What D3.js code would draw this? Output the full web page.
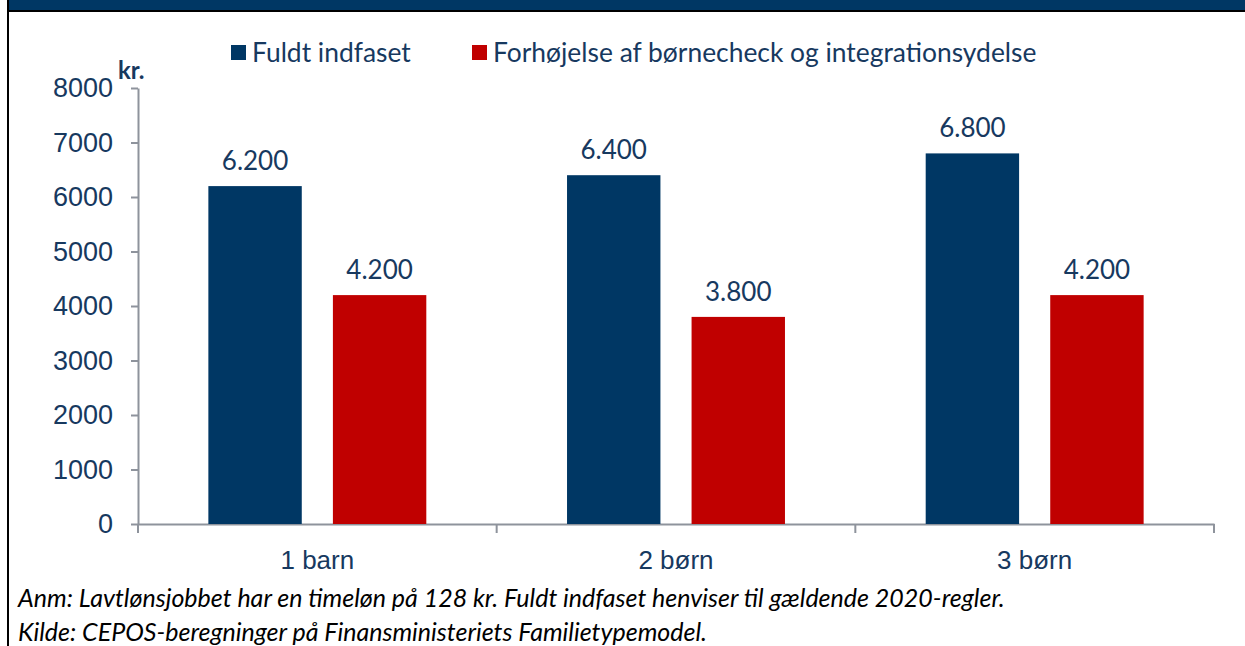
<!DOCTYPE html>
<html>
<head>
<meta charset="utf-8">
<script src="https://cdn.jsdelivr.net/npm/d3@7"></script>
<style>
  body { margin: 0; background: #fff; }
  svg { display: block; font-family: Lato, "Open Sans", sans-serif; }
</style>
</head>
<body>
<svg width="1245" height="646"></svg>
<script>
'use strict'

var categories = ['1 barn', '2 børn', '3 børn']
var seriesNames = ['Fuldt indfaset', 'Forhøjelse af børnecheck og integrationsydelse']
var fuldtIndfaset = [6200, 6400, 6800]
var forhojelse = [4200, 3800, 4200]
var yTicks = [0, 1000, 2000, 3000, 4000, 5000, 6000, 7000, 8000]
var notes = [
  'Anm: Lavtlønsjobbet har en timeløn på 128 kr. Fuldt indfaset henviser til gældende 2020-regler.',
  'Kilde: CEPOS-beregninger på Finansministeriets Familietypemodel.'
]

var colours = ['#003764', '#c00000']
var textColour = '#17395f'
var axisColour = '#8e939c'

var svg = d3.select('svg'),
  width = +svg.attr('width'),
  height = +svg.attr('height')

var margin = { left: 138, right: 31, top: 88, bottom: 122 }

// frame: title band + left rule
svg.append('rect').attr('x', 8).attr('y', 0).attr('width', width - 8).attr('height', 11).attr('fill', '#003764')
svg.append('rect').attr('x', 7).attr('y', 10).attr('width', width - 7).attr('height', 2).attr('fill', '#000')
svg.append('rect').attr('x', 7).attr('y', 0).attr('width', 2).attr('height', height).attr('fill', '#000')

var x0 = d3.scaleBand()
  .domain(categories)
  .range([margin.left, width - margin.right])
  .padding(0)

var x1 = d3.scaleBand()
  .domain(seriesNames)
  .range([0, x0.bandwidth()])
  .paddingInner(0.25)
  .paddingOuter(0.565)

var y = d3.scaleLinear()
  .domain([0, 8000])
  .range([height - margin.bottom, margin.top])

var rows = categories.map(function(c, i) {
  return { cat: c, values: [fuldtIndfaset[i], forhojelse[i]] }
})

// y axis
var yAxis = svg.append('g')
  .attr('transform', 'translate(' + margin.left + ',0)')
  .call(d3.axisLeft(y).tickValues(yTicks).tickSize(7).tickSizeOuter(0).tickPadding(18).tickFormat(d3.format('d')))
yAxis.select('.domain').attr('stroke', axisColour).attr('stroke-width', 2)
yAxis.selectAll('.tick line').attr('stroke', axisColour).attr('stroke-width', 2)
yAxis.selectAll('.tick text').attr('fill', textColour).style('font-size', '27px')

// x axis
var xAxis = svg.append('g')
  .attr('transform', 'translate(0,' + y(0) + ')')
  .call(d3.axisBottom(x0).tickSize(0).tickPadding(27))
xAxis.select('.domain').attr('stroke', axisColour).attr('stroke-width', 2)
xAxis.selectAll('.tick text').attr('fill', textColour).style('font-size', '26px')

var bounds = categories.map(function(c) { return x0(c) }).concat([x0.range()[1]])
xAxis.selectAll('.sep')
  .data(bounds)
  .enter().append('line')
  .attr('class', 'sep')
  .attr('x1', function(d) { return d })
  .attr('x2', function(d) { return d })
  .attr('y1', 0)
  .attr('y2', 9)
  .attr('stroke', axisColour)
  .attr('stroke-width', 2)

// bars
var group = svg.append('g').selectAll('g')
  .data(rows)
  .enter().append('g')
  .attr('transform', function(d) { return 'translate(' + x0(d.cat) + ',0)' })

var cells = group.selectAll('g')
  .data(function(d) {
    return d.values.map(function(v, i) { return { name: seriesNames[i], value: v, i: i } })
  })
  .enter().append('g')

cells.append('rect')
  .attr('x', function(d) { return x1(d.name) })
  .attr('y', function(d) { return y(d.value) })
  .attr('width', x1.bandwidth())
  .attr('height', function(d) { return y(0) - y(d.value) })
  .attr('fill', function(d) { return colours[d.i] })

cells.append('text')
  .attr('x', function(d) { return x1(d.name) + x1.bandwidth() / 2 })
  .attr('y', function(d) { return y(d.value) - 16 })
  .attr('text-anchor', 'middle')
  .attr('fill', textColour)
  .style('font-size', '26px')
  .text(function(d) { return d3.format(',')(d.value).replace(',', '.') })

// unit label
svg.append('text')
  .attr('x', 118)
  .attr('y', 79)
  .attr('fill', textColour)
  .style('font-size', '24px')
  .style('font-weight', 'bold')
  .text('kr.')

// legend
var legendX = [231, 472]
var legend = svg.append('g').selectAll('g')
  .data(seriesNames)
  .enter().append('g')
  .attr('transform', function(d, i) { return 'translate(' + legendX[i] + ',45)' })

legend.append('rect')
  .attr('width', 15)
  .attr('height', 15)
  .attr('fill', function(d, i) { return colours[i] })

legend.append('text')
  .attr('x', 21)
  .attr('y', 17)
  .attr('fill', textColour)
  .style('font-size', '26.4px')
  .text(function(d) { return d })

// notes
svg.append('g').selectAll('text')
  .data(notes)
  .enter().append('text')
  .attr('x', 18)
  .attr('y', function(d, i) { return 607 + i * 34 })
  .attr('fill', '#000')
  .style('font-size', '25px')
  .style('font-style', 'italic')
  .text(function(d) { return d })
</script>
</body>
</html>
